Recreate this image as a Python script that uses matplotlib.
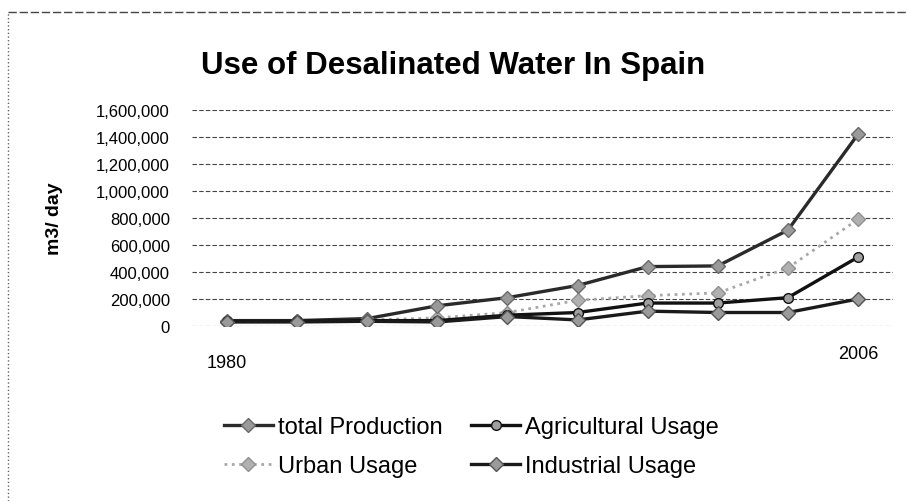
import matplotlib
matplotlib.use("Agg")
import matplotlib.pyplot as plt
from matplotlib.lines import Line2D
from matplotlib.ticker import FuncFormatter
from matplotlib.transforms import ScaledTranslation

# Data (m3/day)
years = ["1980", "", "", "", "", "", "", "", "", "2006"]
total_production = [40000, 40000, 55000, 150000, 210000, 300000, 440000, 445000, 710000, 1420000]
agricultural = [35000, 35000, 40000, 40000, 80000, 100000, 170000, 170000, 210000, 510000]
urban = [30000, 35000, 45000, 60000, 100000, 190000, 225000, 245000, 430000, 790000]
industrial = [30000, 30000, 35000, 30000, 70000, 45000, 110000, 100000, 100000, 200000]
y_ticks = [0, 200000, 400000, 600000, 800000, 1000000, 1200000, 1400000, 1600000]

plt.rcParams["font.family"] = ["Liberation Sans", "DejaVu Sans"]

fig = plt.figure(figsize=(9.07, 5.02), dpi=100)
ax = fig.add_axes([0.2117, 0.3486, 0.7729, 0.4303])

x = list(range(len(years)))

l_tot, = ax.plot(x, total_production, "-D", color="#2a2a2a", linewidth=2.4, markersize=7,
                 markerfacecolor="#9a9a9a", markeredgecolor="#6a6a6a", label="total Production", zorder=4)
l_agr, = ax.plot(x, agricultural, "-o", color="#111111", linewidth=2.4, markersize=7,
                 markerfacecolor="#a0a0a0", markeredgecolor="#111111", label="Agricultural Usage", zorder=4)
l_urb, = ax.plot(x, urban, ":D", color="#a8a8a8", linewidth=2.0, markersize=7,
                 markerfacecolor="#b0b0b0", markeredgecolor="#909090", label="Urban Usage", zorder=3)
l_ind, = ax.plot(x, industrial, "-D", color="#1a1a1a", linewidth=2.4, markersize=7,
                 markerfacecolor="#9a9a9a", markeredgecolor="#555555", label="Industrial Usage", zorder=4)

ax.set_xlim(-0.5, len(years) - 0.5)
ax.set_ylim(0, 1600000)
ax.set_yticks(y_ticks)
ax.yaxis.set_major_formatter(FuncFormatter(lambda v, p: f"{int(v):,}"))
ax.set_xticks(x)
ax.set_xticklabels(years)
ax.tick_params(axis="y", length=0, pad=16, labelsize=12)
ax.tick_params(axis="x", length=0, pad=20, labelsize=13)
# 2006 sits a bit higher than 1980 on the scan
lbl = ax.get_xticklabels()[-1]
lbl.set_transform(lbl.get_transform() + ScaledTranslation(0, 6 / 72, fig.dpi_scale_trans))
for s in ax.spines.values():
    s.set_visible(False)
ax.grid(True, axis="y", color="#444444", linestyle=(0, (4, 2)), linewidth=0.8)
ax.set_axisbelow(True)

ax.set_ylabel("m3/ day", fontsize=14, fontweight="bold", labelpad=24)
fig.text(0.5, 0.868, "Use of Desalinated Water In Spain", ha="center", va="center",
         fontsize=22.5, fontweight="bold")

# column-major fill: row 1 = total / agricultural, row 2 = urban / industrial
fig.legend([l_tot, l_urb, l_agr, l_ind],
           ["total Production", "Urban Usage", "Agricultural Usage", "Industrial Usage"],
           loc="center left", bbox_to_anchor=(0.223, 0.108), ncol=2, frameon=False,
           fontsize=17, handlelength=2.1, columnspacing=1.2, labelspacing=0.72,
           handletextpad=0.2)

# dotted chart frame from the scan
fig.add_artist(Line2D([0.009, 0.009], [0.0, 0.975], transform=fig.transFigure,
                      color="#666666", linestyle=":", linewidth=1))
fig.add_artist(Line2D([0.009, 1.0], [0.975, 0.975], transform=fig.transFigure,
                      color="#444444", linestyle=(0, (6, 2)), linewidth=1))

fig.savefig("out.png", dpi=100)
plt.close(fig)
